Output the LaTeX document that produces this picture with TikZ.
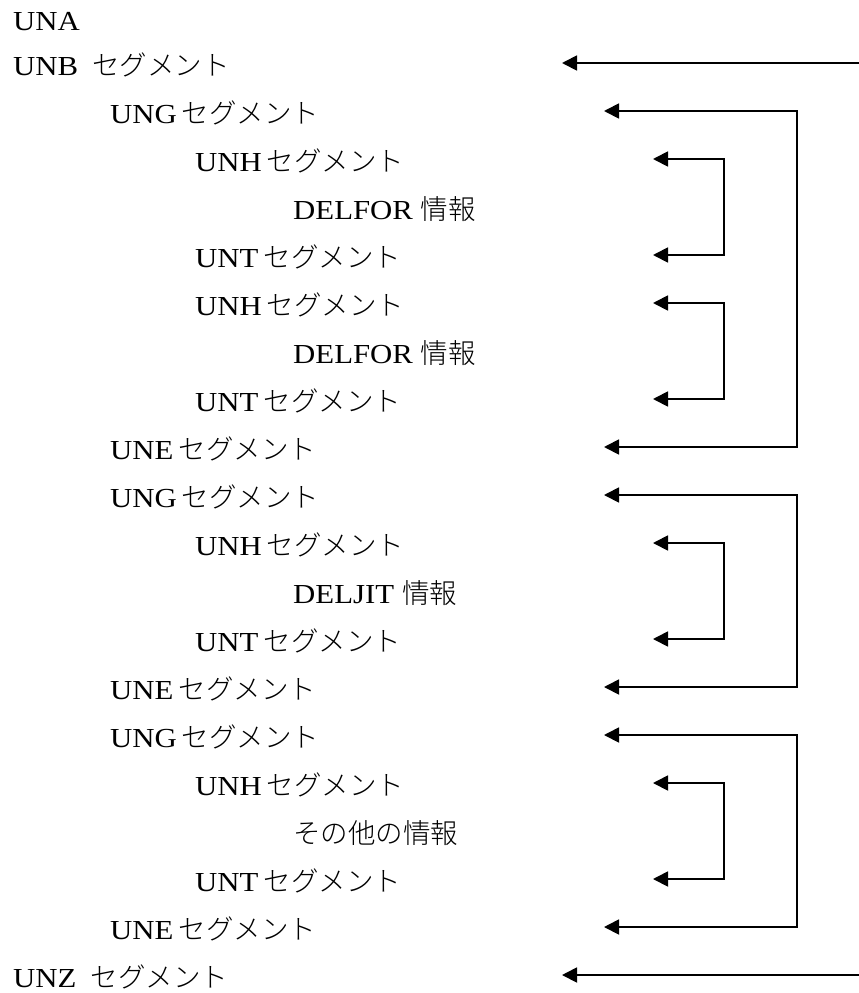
\documentclass[tikz,border=0pt]{standalone}
\usepackage{fontspec}
\setmainfont{Liberation Serif}[FakeStretch=1.12]
\newfontfamily\jpfont{Noto Sans CJK JP Light}
\usetikzlibrary{arrows.meta}
\newcommand{\J}[1]{{\jpfont\fontsize{27.5}{30}\selectfont #1}}
\begin{document}
\begin{tikzpicture}[x=1pt,y=-1pt,
  lbl/.style={anchor=base west, inner sep=0pt, font=\fontsize{27.5}{30}\selectfont},
  link/.style={line width=1.8pt, -{Triangle[length=15pt,width=15pt]}},
  blink/.style={line width=1.8pt, {Triangle[length=15pt,width=15pt]}-{Triangle[length=15pt,width=15pt]}}]
\useasboundingbox (0,0) rectangle (859,993);
% texts
\node[lbl] (l0)  at (13,30)   {UNA};
\node[lbl] (l1)  at (13,75)   {UNB\hspace{14pt}\J{セグメント}};
\node[lbl] (l2)  at (110,123) {UNG\hspace{5pt}\J{セグメント}};
\node[lbl] (l3)  at (195,171) {UNH\hspace{5pt}\J{セグメント}};
\node[lbl] (l4)  at (293,219) {DELFOR\hspace{8pt}\J{情報}};
\node[lbl] (l5)  at (195,267) {UNT\hspace{5pt}\J{セグメント}};
\node[lbl] (l6)  at (195,315) {UNH\hspace{5pt}\J{セグメント}};
\node[lbl] (l7)  at (293,363) {DELFOR\hspace{8pt}\J{情報}};
\node[lbl] (l8)  at (195,411) {UNT\hspace{5pt}\J{セグメント}};
\node[lbl] (l9)  at (110,459) {UNE\hspace{5pt}\J{セグメント}};
\node[lbl] (l10) at (110,507) {UNG\hspace{5pt}\J{セグメント}};
\node[lbl] (l11) at (195,555) {UNH\hspace{5pt}\J{セグメント}};
\node[lbl] (l12) at (293,603) {DELJIT\hspace{8pt}\J{情報}};
\node[lbl] (l13) at (195,651) {UNT\hspace{5pt}\J{セグメント}};
\node[lbl] (l14) at (110,699) {UNE\hspace{5pt}\J{セグメント}};
\node[lbl] (l15) at (110,747) {UNG\hspace{5pt}\J{セグメント}};
\node[lbl] (l16) at (195,795) {UNH\hspace{5pt}\J{セグメント}};
\node[lbl] (l17) at (293,843) {\J{その他の情報}};
\node[lbl] (l18) at (195,891) {UNT\hspace{5pt}\J{セグメント}};
\node[lbl] (l19) at (110,939) {UNE\hspace{5pt}\J{セグメント}};
\node[lbl] (l20) at (13,987)  {UNZ\hspace{14pt}\J{セグメント}};
% arrow ends
\coordinate (rB) at (859,63);  \coordinate (aB) at (562,63);
\coordinate (rZ) at (859,975); \coordinate (aZ) at (562,975);
\coordinate (g1a) at (604,111); \coordinate (g1c) at (797,447); \coordinate (g1b) at (604,447);
\coordinate (h1a) at (653,159); \coordinate (h1c) at (724,255); \coordinate (h1b) at (653,255);
\coordinate (h2a) at (653,303); \coordinate (h2c) at (724,399); \coordinate (h2b) at (653,399);
\coordinate (g2a) at (604,495); \coordinate (g2c) at (797,687); \coordinate (g2b) at (604,687);
\coordinate (h3a) at (653,543); \coordinate (h3c) at (724,639); \coordinate (h3b) at (653,639);
\coordinate (g3a) at (604,735); \coordinate (g3c) at (797,927); \coordinate (g3b) at (604,927);
\coordinate (h4a) at (653,783); \coordinate (h4c) at (724,879); \coordinate (h4b) at (653,879);
% connectors
\draw[link] (rB) -- (aB);
\draw[link] (rZ) -- (aZ);
\draw[blink] (g1a) -| (g1c) -- (g1b);
\draw[blink] (h1a) -| (h1c) -- (h1b);
\draw[blink] (h2a) -| (h2c) -- (h2b);
\draw[blink] (g2a) -| (g2c) -- (g2b);
\draw[blink] (h3a) -| (h3c) -- (h3b);
\draw[blink] (g3a) -| (g3c) -- (g3b);
\draw[blink] (h4a) -| (h4c) -- (h4b);
\end{tikzpicture}
\end{document}
